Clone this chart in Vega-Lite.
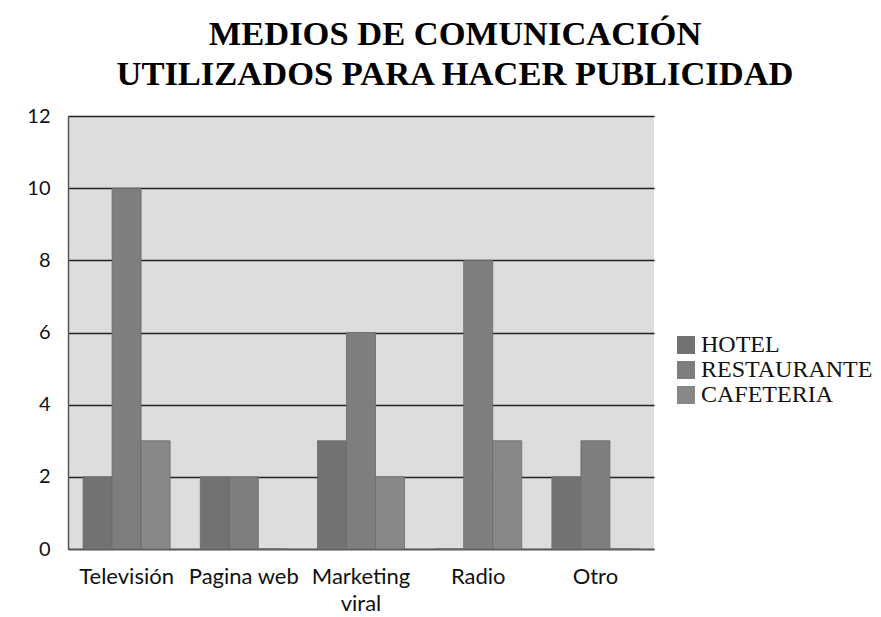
{
  "$schema": "https://vega.github.io/schema/vega-lite/v6.json",
  "width": 586,
  "height": 433,
  "autosize": "none",
  "padding": {"left": 68, "top": 116, "right": 227, "bottom": 68},
  "background": "white",
  "title": {
    "text": ["MEDIOS DE COMUNICACIÓN", "UTILIZADOS PARA HACER PUBLICIDAD"],
    "font": "Liberation Serif",
    "fontSize": 34.5,
    "fontWeight": "bold",
    "color": "#000000",
    "anchor": "middle",
    "dx": 94,
    "offset": 14,
    "lineHeight": 40
  },
  "config": {
    "view": {"fill": "#dddddd", "stroke": null}
  },
  "data": {
    "values": [
      {"medio": "Televisión", "tipo": "HOTEL", "valor": 2},
      {"medio": "Televisión", "tipo": "RESTAURANTE", "valor": 10},
      {"medio": "Televisión", "tipo": "CAFETERIA", "valor": 3},
      {"medio": "Pagina web", "tipo": "HOTEL", "valor": 2},
      {"medio": "Pagina web", "tipo": "RESTAURANTE", "valor": 2},
      {"medio": "Pagina web", "tipo": "CAFETERIA", "valor": 0},
      {"medio": "Marketing viral", "tipo": "HOTEL", "valor": 3},
      {"medio": "Marketing viral", "tipo": "RESTAURANTE", "valor": 6},
      {"medio": "Marketing viral", "tipo": "CAFETERIA", "valor": 2},
      {"medio": "Radio", "tipo": "HOTEL", "valor": 0},
      {"medio": "Radio", "tipo": "RESTAURANTE", "valor": 8},
      {"medio": "Radio", "tipo": "CAFETERIA", "valor": 3},
      {"medio": "Otro", "tipo": "HOTEL", "valor": 2},
      {"medio": "Otro", "tipo": "RESTAURANTE", "valor": 3},
      {"medio": "Otro", "tipo": "CAFETERIA", "valor": 0}
    ]
  },
  "mark": {"type": "bar", "stroke": "#6a6a6a", "strokeWidth": 0.8},
  "encoding": {
    "x": {
      "field": "medio",
      "type": "nominal",
      "sort": ["Televisión", "Pagina web", "Marketing viral", "Radio", "Otro"],
      "scale": {"paddingInner": 0, "paddingOuter": 0},
      "axis": {
        "title": null,
        "labelAngle": 0,
        "labelFont": "Lato",
        "labelFontSize": 22,
        "labelColor": "#111111",
        "labelPadding": 17,
        "labelLineHeight": 27,
        "labelExpr": "datum.label == 'Marketing viral' ? ['Marketing', 'viral'] : datum.label",
        "ticks": false,
        "domainColor": "#555555",
        "domainWidth": 1.5
      }
    },
    "xOffset": {
      "field": "tipo",
      "type": "nominal",
      "sort": ["HOTEL", "RESTAURANTE", "CAFETERIA"],
      "scale": {"paddingInner": 0, "paddingOuter": 0.52}
    },
    "y": {
      "field": "valor",
      "type": "quantitative",
      "scale": {"domain": [0, 12], "nice": false},
      "axis": {
        "title": null,
        "values": [0, 2, 4, 6, 8, 10, 12],
        "labelFont": "Lato",
        "labelFontSize": 20,
        "labelColor": "#111111",
        "labelPadding": 18,
        "ticks": false,
        "domainColor": "#555555",
        "domainWidth": 1.5,
        "gridColor": "#222222",
        "gridWidth": 1.3
      }
    },
    "color": {
      "field": "tipo",
      "type": "nominal",
      "sort": ["HOTEL", "RESTAURANTE", "CAFETERIA"],
      "scale": {"domain": ["HOTEL", "RESTAURANTE", "CAFETERIA"], "range": ["#727272", "#7e7e7e", "#888888"]},
      "legend": {
        "title": null,
        "orient": "none",
        "legendX": 606,
        "legendY": 217,
        "symbolType": "square",
        "symbolSize": 324,
        "symbolStrokeWidth": 0,
        "labelFont": "Liberation Serif",
        "labelFontSize": 24,
        "labelLimit": 400,
        "labelColor": "#111111",
        "rowPadding": 1,
        "labelOffset": 3
      }
    }
  }
}
